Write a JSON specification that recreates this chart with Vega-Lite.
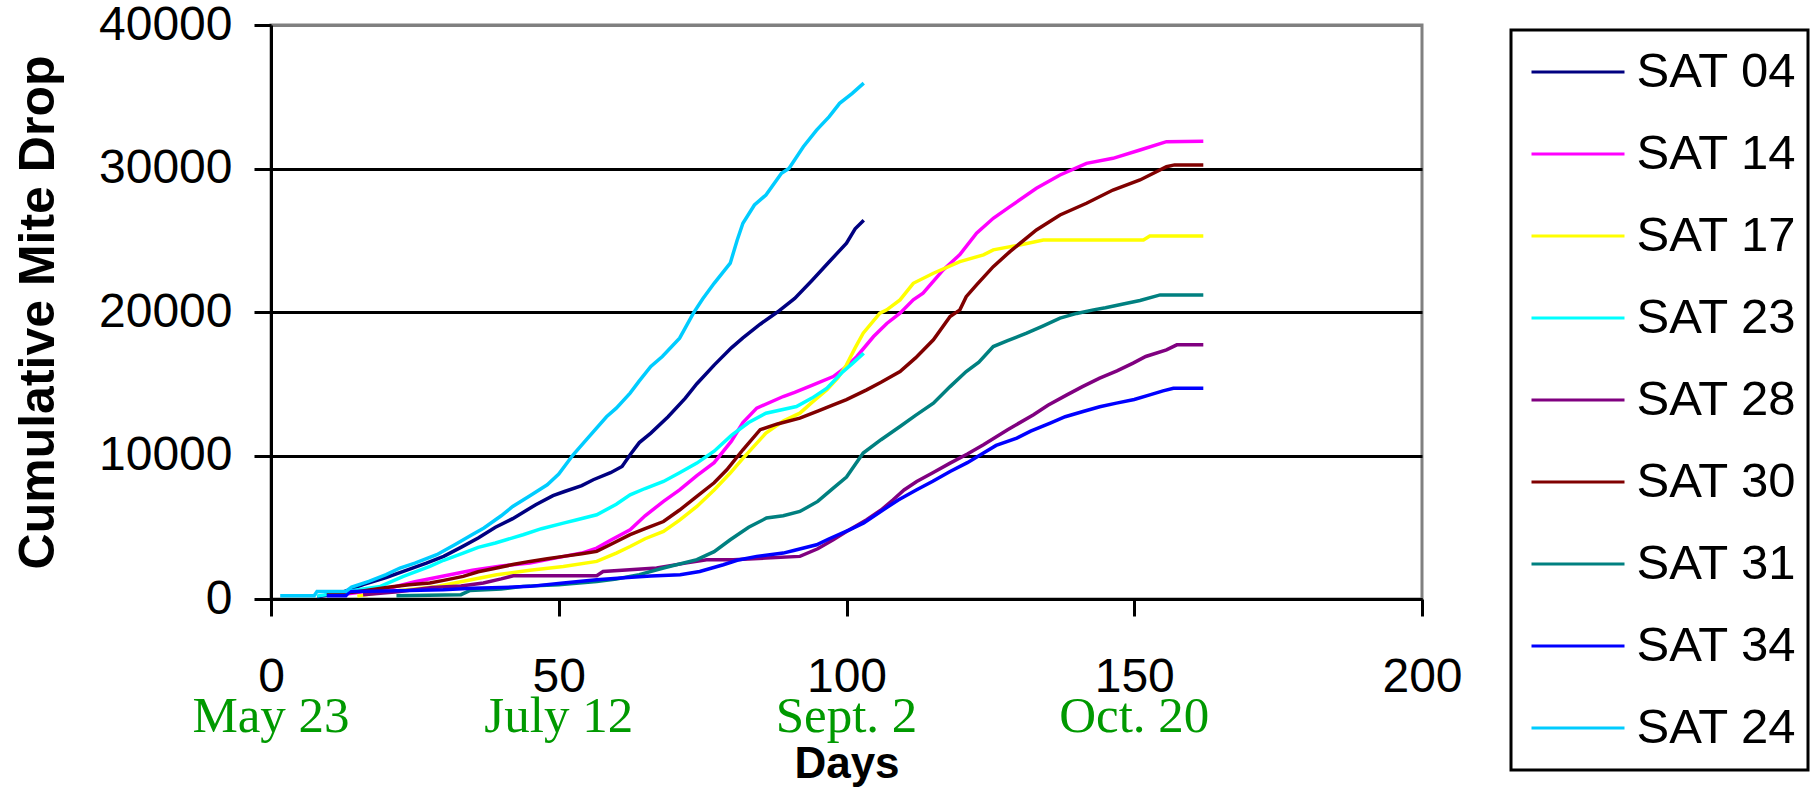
{
  "$schema": "https://vega.github.io/schema/vega-lite/v6.json",
  "width": 1151,
  "height": 574,
  "autosize": {"type": "none"},
  "padding": {"left": 271, "top": 25, "right": 394, "bottom": 193},
  "background": "white",
  "config": {
    "view": {"stroke": "#808080", "strokeWidth": 3},
    "font": "Liberation Sans",
    "legend": {"strokeWidth": 3}
  },
  "datasets": {
    "mites": [
      {"s":"SAT 04","d":8,"v":150},{"s":"SAT 04","d":12,"v":400},{"s":"SAT 04","d":16,"v":1000},{"s":"SAT 04","d":20,"v":1500},{"s":"SAT 04","d":23,"v":1920},{"s":"SAT 04","d":27,"v":2500},{"s":"SAT 04","d":30,"v":2970},{"s":"SAT 04","d":33,"v":3600},{"s":"SAT 04","d":36,"v":4250},{"s":"SAT 04","d":39,"v":5000},{"s":"SAT 04","d":42,"v":5600},{"s":"SAT 04","d":46,"v":6570},{"s":"SAT 04","d":49,"v":7200},{"s":"SAT 04","d":51,"v":7490},{"s":"SAT 04","d":54,"v":7900},{"s":"SAT 04","d":56,"v":8310},{"s":"SAT 04","d":59,"v":8800},{"s":"SAT 04","d":61,"v":9235},{"s":"SAT 04","d":62.5,"v":10100},{"s":"SAT 04","d":64,"v":10900},{"s":"SAT 04","d":66,"v":11560},{"s":"SAT 04","d":69,"v":12700},{"s":"SAT 04","d":72,"v":14000},{"s":"SAT 04","d":74,"v":15000},{"s":"SAT 04","d":77,"v":16300},{"s":"SAT 04","d":80,"v":17500},{"s":"SAT 04","d":82,"v":18200},{"s":"SAT 04","d":85,"v":19150},{"s":"SAT 04","d":88,"v":20000},{"s":"SAT 04","d":91,"v":20950},{"s":"SAT 04","d":94,"v":22200},{"s":"SAT 04","d":97,"v":23500},{"s":"SAT 04","d":100,"v":24800},{"s":"SAT 04","d":101.5,"v":25800},{"s":"SAT 04","d":103,"v":26400},

      {"s":"SAT 14","d":12,"v":300},{"s":"SAT 14","d":20,"v":700},{"s":"SAT 14","d":25,"v":1200},{"s":"SAT 14","d":30,"v":1600},{"s":"SAT 14","d":35,"v":2000},{"s":"SAT 14","d":40,"v":2300},{"s":"SAT 14","d":45,"v":2500},{"s":"SAT 14","d":50,"v":2900},{"s":"SAT 14","d":54,"v":3200},{"s":"SAT 14","d":56.6,"v":3550},{"s":"SAT 14","d":59,"v":4100},{"s":"SAT 14","d":62.4,"v":4830},{"s":"SAT 14","d":65,"v":5800},{"s":"SAT 14","d":68.2,"v":6800},{"s":"SAT 14","d":71,"v":7600},{"s":"SAT 14","d":74,"v":8600},{"s":"SAT 14","d":77,"v":9500},{"s":"SAT 14","d":80,"v":11000},{"s":"SAT 14","d":82,"v":12300},{"s":"SAT 14","d":84.4,"v":13300},{"s":"SAT 14","d":89,"v":14110},{"s":"SAT 14","d":91,"v":14400},{"s":"SAT 14","d":94.2,"v":14920},{"s":"SAT 14","d":97.7,"v":15500},{"s":"SAT 14","d":100,"v":16200},{"s":"SAT 14","d":101.8,"v":16900},{"s":"SAT 14","d":104.7,"v":18290},{"s":"SAT 14","d":107,"v":19200},{"s":"SAT 14","d":109.3,"v":19920},{"s":"SAT 14","d":111.6,"v":20845},{"s":"SAT 14","d":113.3,"v":21310},{"s":"SAT 14","d":116.8,"v":22930},{"s":"SAT 14","d":119.7,"v":24000},{"s":"SAT 14","d":122.6,"v":25490},{"s":"SAT 14","d":125.5,"v":26530},{"s":"SAT 14","d":128.4,"v":27340},{"s":"SAT 14","d":133,"v":28620},{"s":"SAT 14","d":137.1,"v":29550},{"s":"SAT 14","d":141.7,"v":30360},{"s":"SAT 14","d":146.3,"v":30710},{"s":"SAT 14","d":151,"v":31290},{"s":"SAT 14","d":155.6,"v":31870},{"s":"SAT 14","d":162,"v":31900},

      {"s":"SAT 17","d":15,"v":200},{"s":"SAT 17","d":20,"v":500},{"s":"SAT 17","d":25,"v":700},{"s":"SAT 17","d":28.8,"v":880},{"s":"SAT 17","d":33,"v":1200},{"s":"SAT 17","d":39.2,"v":1690},{"s":"SAT 17","d":45,"v":2000},{"s":"SAT 17","d":50.8,"v":2270},{"s":"SAT 17","d":56.6,"v":2620},{"s":"SAT 17","d":60,"v":3200},{"s":"SAT 17","d":62.4,"v":3660},{"s":"SAT 17","d":65,"v":4200},{"s":"SAT 17","d":68.2,"v":4710},{"s":"SAT 17","d":71,"v":5500},{"s":"SAT 17","d":74,"v":6450},{"s":"SAT 17","d":77,"v":7600},{"s":"SAT 17","d":79.8,"v":8775},{"s":"SAT 17","d":82,"v":9800},{"s":"SAT 17","d":86,"v":11560},{"s":"SAT 17","d":89,"v":12400},{"s":"SAT 17","d":91.9,"v":12950},{"s":"SAT 17","d":94,"v":13700},{"s":"SAT 17","d":96.6,"v":14575},{"s":"SAT 17","d":98.5,"v":15400},{"s":"SAT 17","d":100,"v":16315},{"s":"SAT 17","d":101.5,"v":17500},{"s":"SAT 17","d":102.9,"v":18525},{"s":"SAT 17","d":105.8,"v":19920},{"s":"SAT 17","d":107,"v":20150},{"s":"SAT 17","d":109.3,"v":20845},{"s":"SAT 17","d":111.6,"v":22000},{"s":"SAT 17","d":115.1,"v":22700},{"s":"SAT 17","d":119.7,"v":23510},{"s":"SAT 17","d":123.8,"v":23980},{"s":"SAT 17","d":125.5,"v":24330},{"s":"SAT 17","d":130.1,"v":24670},{"s":"SAT 17","d":134.2,"v":25020},{"s":"SAT 17","d":151.6,"v":25020},{"s":"SAT 17","d":152.7,"v":25300},{"s":"SAT 17","d":162,"v":25300},

      {"s":"SAT 23","d":8,"v":200},{"s":"SAT 23","d":13,"v":500},{"s":"SAT 23","d":16,"v":700},{"s":"SAT 23","d":19,"v":880},{"s":"SAT 23","d":23,"v":1575},{"s":"SAT 23","d":27.6,"v":2270},{"s":"SAT 23","d":30,"v":2700},{"s":"SAT 23","d":33.4,"v":3200},{"s":"SAT 23","d":36,"v":3600},{"s":"SAT 23","d":39,"v":3900},{"s":"SAT 23","d":43.8,"v":4480},{"s":"SAT 23","d":47,"v":4900},{"s":"SAT 23","d":50.8,"v":5290},{"s":"SAT 23","d":53,"v":5500},{"s":"SAT 23","d":56.6,"v":5870},{"s":"SAT 23","d":60,"v":6600},{"s":"SAT 23","d":62.4,"v":7260},{"s":"SAT 23","d":65,"v":7700},{"s":"SAT 23","d":68.2,"v":8190},{"s":"SAT 23","d":71,"v":8800},{"s":"SAT 23","d":74,"v":9470},{"s":"SAT 23","d":77,"v":10300},{"s":"SAT 23","d":80,"v":11400},{"s":"SAT 23","d":83,"v":12300},{"s":"SAT 23","d":86,"v":12950},{"s":"SAT 23","d":91.3,"v":13410},{"s":"SAT 23","d":94,"v":14000},{"s":"SAT 23","d":96.6,"v":14690},{"s":"SAT 23","d":99.4,"v":15850},{"s":"SAT 23","d":101,"v":16400},{"s":"SAT 23","d":103,"v":17130},

      {"s":"SAT 28","d":16,"v":300},{"s":"SAT 28","d":22,"v":500},{"s":"SAT 28","d":28,"v":800},{"s":"SAT 28","d":33,"v":900},{"s":"SAT 28","d":36.9,"v":1115},{"s":"SAT 28","d":40,"v":1400},{"s":"SAT 28","d":42.1,"v":1620},{"s":"SAT 28","d":56.6,"v":1620},{"s":"SAT 28","d":57.7,"v":1920},{"s":"SAT 28","d":67,"v":2160},{"s":"SAT 28","d":72,"v":2500},{"s":"SAT 28","d":75.7,"v":2740},{"s":"SAT 28","d":80.3,"v":2740},{"s":"SAT 28","d":86,"v":2850},{"s":"SAT 28","d":91.9,"v":2970},{"s":"SAT 28","d":95,"v":3500},{"s":"SAT 28","d":97.7,"v":4130},{"s":"SAT 28","d":100,"v":4700},{"s":"SAT 28","d":103.5,"v":5520},{"s":"SAT 28","d":106,"v":6200},{"s":"SAT 28","d":108.1,"v":6915},{"s":"SAT 28","d":110,"v":7600},{"s":"SAT 28","d":112.2,"v":8190},{"s":"SAT 28","d":115,"v":8800},{"s":"SAT 28","d":118,"v":9470},{"s":"SAT 28","d":121,"v":10100},{"s":"SAT 28","d":123.8,"v":10745},{"s":"SAT 28","d":128,"v":11800},{"s":"SAT 28","d":132.5,"v":12835},{"s":"SAT 28","d":135,"v":13500},{"s":"SAT 28","d":138.3,"v":14225},{"s":"SAT 28","d":141,"v":14800},{"s":"SAT 28","d":144,"v":15390},{"s":"SAT 28","d":147,"v":15900},{"s":"SAT 28","d":149.8,"v":16435},{"s":"SAT 28","d":152,"v":16900},{"s":"SAT 28","d":155.6,"v":17360},{"s":"SAT 28","d":157.4,"v":17710},{"s":"SAT 28","d":162,"v":17710},

      {"s":"SAT 30","d":9.7,"v":300},{"s":"SAT 30","d":15,"v":500},{"s":"SAT 30","d":20.7,"v":835},{"s":"SAT 30","d":24,"v":1000},{"s":"SAT 30","d":27.6,"v":1115},{"s":"SAT 30","d":30,"v":1300},{"s":"SAT 30","d":33.4,"v":1575},{"s":"SAT 30","d":36,"v":1900},{"s":"SAT 30","d":39.2,"v":2160},{"s":"SAT 30","d":42,"v":2400},{"s":"SAT 30","d":45,"v":2620},{"s":"SAT 30","d":48,"v":2800},{"s":"SAT 30","d":50.8,"v":2970},{"s":"SAT 30","d":54,"v":3150},{"s":"SAT 30","d":56.6,"v":3315},{"s":"SAT 30","d":59,"v":3800},{"s":"SAT 30","d":62.4,"v":4480},{"s":"SAT 30","d":65,"v":4900},{"s":"SAT 30","d":68.2,"v":5400},{"s":"SAT 30","d":71,"v":6200},{"s":"SAT 30","d":74,"v":7145},{"s":"SAT 30","d":77,"v":8100},{"s":"SAT 30","d":79.2,"v":9000},{"s":"SAT 30","d":82,"v":10400},{"s":"SAT 30","d":85,"v":11800},{"s":"SAT 30","d":88,"v":12200},{"s":"SAT 30","d":91.9,"v":12600},{"s":"SAT 30","d":95,"v":13100},{"s":"SAT 30","d":97.7,"v":13530},{"s":"SAT 30","d":100,"v":13900},{"s":"SAT 30","d":103.5,"v":14575},{"s":"SAT 30","d":106,"v":15100},{"s":"SAT 30","d":109.3,"v":15850},{"s":"SAT 30","d":112,"v":16800},{"s":"SAT 30","d":115.1,"v":18060},{"s":"SAT 30","d":118,"v":19680},{"s":"SAT 30","d":119.7,"v":20150},{"s":"SAT 30","d":120.8,"v":21070},{"s":"SAT 30","d":122.6,"v":21890},{"s":"SAT 30","d":125.5,"v":23160},{"s":"SAT 30","d":128.4,"v":24210},{"s":"SAT 30","d":133,"v":25720},{"s":"SAT 30","d":137.1,"v":26760},{"s":"SAT 30","d":141.7,"v":27580},{"s":"SAT 30","d":146.3,"v":28500},{"s":"SAT 30","d":151,"v":29200},{"s":"SAT 30","d":155.6,"v":30125},{"s":"SAT 30","d":157,"v":30250},{"s":"SAT 30","d":162,"v":30250},

      {"s":"SAT 31","d":21.8,"v":230},{"s":"SAT 31","d":33,"v":300},{"s":"SAT 31","d":34.6,"v":600},{"s":"SAT 31","d":40,"v":700},{"s":"SAT 31","d":43.8,"v":880},{"s":"SAT 31","d":50,"v":1000},{"s":"SAT 31","d":56.6,"v":1225},{"s":"SAT 31","d":60,"v":1400},{"s":"SAT 31","d":64,"v":1700},{"s":"SAT 31","d":68.2,"v":2160},{"s":"SAT 31","d":74,"v":2740},{"s":"SAT 31","d":77,"v":3300},{"s":"SAT 31","d":79.8,"v":4130},{"s":"SAT 31","d":83,"v":5000},{"s":"SAT 31","d":86.1,"v":5640},{"s":"SAT 31","d":89,"v":5800},{"s":"SAT 31","d":91.9,"v":6100},{"s":"SAT 31","d":95,"v":6800},{"s":"SAT 31","d":97.7,"v":7730},{"s":"SAT 31","d":100,"v":8500},{"s":"SAT 31","d":102.9,"v":10170},{"s":"SAT 31","d":106,"v":11100},{"s":"SAT 31","d":109.3,"v":12020},{"s":"SAT 31","d":112,"v":12800},{"s":"SAT 31","d":115.1,"v":13650},{"s":"SAT 31","d":118,"v":14800},{"s":"SAT 31","d":120.8,"v":15850},{"s":"SAT 31","d":123,"v":16500},{"s":"SAT 31","d":125.5,"v":17590},{"s":"SAT 31","d":128,"v":18000},{"s":"SAT 31","d":131.3,"v":18525},{"s":"SAT 31","d":134,"v":19000},{"s":"SAT 31","d":137.1,"v":19570},{"s":"SAT 31","d":140,"v":19900},{"s":"SAT 31","d":142.9,"v":20150},{"s":"SAT 31","d":145,"v":20300},{"s":"SAT 31","d":148.7,"v":20615},{"s":"SAT 31","d":151,"v":20800},{"s":"SAT 31","d":154.5,"v":21190},{"s":"SAT 31","d":162,"v":21190},

      {"s":"SAT 34","d":9.7,"v":230},{"s":"SAT 34","d":13,"v":230},{"s":"SAT 34","d":13.7,"v":530},{"s":"SAT 34","d":20,"v":550},{"s":"SAT 34","d":29.9,"v":650},{"s":"SAT 34","d":35,"v":750},{"s":"SAT 34","d":40,"v":800},{"s":"SAT 34","d":45,"v":880},{"s":"SAT 34","d":50.8,"v":1115},{"s":"SAT 34","d":56.6,"v":1345},{"s":"SAT 34","d":62,"v":1500},{"s":"SAT 34","d":66,"v":1600},{"s":"SAT 34","d":71.1,"v":1690},{"s":"SAT 34","d":74.5,"v":1920},{"s":"SAT 34","d":78.6,"v":2390},{"s":"SAT 34","d":81,"v":2700},{"s":"SAT 34","d":84.4,"v":2970},{"s":"SAT 34","d":89,"v":3200},{"s":"SAT 34","d":91,"v":3400},{"s":"SAT 34","d":94.8,"v":3780},{"s":"SAT 34","d":97,"v":4200},{"s":"SAT 34","d":100.6,"v":4830},{"s":"SAT 34","d":103,"v":5300},{"s":"SAT 34","d":106.4,"v":6220},{"s":"SAT 34","d":109,"v":6900},{"s":"SAT 34","d":112.2,"v":7610},{"s":"SAT 34","d":115,"v":8200},{"s":"SAT 34","d":118,"v":8885},{"s":"SAT 34","d":121,"v":9500},{"s":"SAT 34","d":123.8,"v":10170},{"s":"SAT 34","d":126,"v":10700},{"s":"SAT 34","d":129.6,"v":11210},{"s":"SAT 34","d":132,"v":11700},{"s":"SAT 34","d":135.4,"v":12255},{"s":"SAT 34","d":138,"v":12700},{"s":"SAT 34","d":141.1,"v":13065},{"s":"SAT 34","d":144,"v":13400},{"s":"SAT 34","d":146.9,"v":13650},{"s":"SAT 34","d":150,"v":13900},{"s":"SAT 34","d":152.7,"v":14225},{"s":"SAT 34","d":155,"v":14500},{"s":"SAT 34","d":156.8,"v":14690},{"s":"SAT 34","d":162,"v":14690},

      {"s":"SAT 24","d":1.6,"v":230},{"s":"SAT 24","d":7.5,"v":230},{"s":"SAT 24","d":8,"v":530},{"s":"SAT 24","d":13,"v":530},{"s":"SAT 24","d":14,"v":830},{"s":"SAT 24","d":17,"v":1225},{"s":"SAT 24","d":20,"v":1700},{"s":"SAT 24","d":22.4,"v":2160},{"s":"SAT 24","d":25,"v":2500},{"s":"SAT 24","d":28.8,"v":3085},{"s":"SAT 24","d":32,"v":3800},{"s":"SAT 24","d":35,"v":4500},{"s":"SAT 24","d":37,"v":4950},{"s":"SAT 24","d":40,"v":5800},{"s":"SAT 24","d":42,"v":6450},{"s":"SAT 24","d":45,"v":7200},{"s":"SAT 24","d":48,"v":7960},{"s":"SAT 24","d":50,"v":8700},{"s":"SAT 24","d":52.5,"v":10050},{"s":"SAT 24","d":55,"v":11200},{"s":"SAT 24","d":58.3,"v":12700},{"s":"SAT 24","d":60,"v":13300},{"s":"SAT 24","d":62.4,"v":14350},{"s":"SAT 24","d":64,"v":15200},{"s":"SAT 24","d":66,"v":16200},{"s":"SAT 24","d":68,"v":16900},{"s":"SAT 24","d":71,"v":18175},{"s":"SAT 24","d":73.4,"v":19920},{"s":"SAT 24","d":75,"v":20900},{"s":"SAT 24","d":77,"v":22000},{"s":"SAT 24","d":79.8,"v":23400},{"s":"SAT 24","d":81,"v":25000},{"s":"SAT 24","d":82,"v":26185},{"s":"SAT 24","d":84,"v":27460},{"s":"SAT 24","d":86,"v":28155},{"s":"SAT 24","d":88.7,"v":29665},{"s":"SAT 24","d":90,"v":30000},{"s":"SAT 24","d":92.5,"v":31520},{"s":"SAT 24","d":94.8,"v":32680},{"s":"SAT 24","d":97,"v":33610},{"s":"SAT 24","d":98.8,"v":34540},{"s":"SAT 24","d":101,"v":35240},{"s":"SAT 24","d":103,"v":35950}
    ],
    "dates": [
      {"d": 0, "label": "May 23"},
      {"d": 50, "label": "July 12"},
      {"d": 100, "label": "Sept. 2"},
      {"d": 150, "label": "Oct. 20"}
    ]
  },
  "layer": [
    {
      "data": {"name": "mites"},
      "mark": {"type": "line", "strokeWidth": 3.5, "interpolate": "linear"},
      "encoding": {
        "x": {
          "field": "d", "type": "quantitative", "title": "Days",
          "scale": {"domain": [0, 200], "nice": false},
          "axis": {
            "title": "Days", "values": [0, 50, 100, 150, 200], "format": "d", "grid": false,
            "domainColor": "black", "domainWidth": 3, "tickColor": "black", "tickWidth": 3, "tickSize": 17,
            "labelFont": "Liberation Sans", "labelFontSize": 48, "labelColor": "black", "labelPadding": 37,
            "labelFlush": false, "labelOverlap": false,
            "titleFont": "Liberation Sans", "titleFontSize": 44, "titleFontWeight": "bold", "titleColor": "black",
            "titleBaseline": "alphabetic", "titlePadding": 76.5
          }
        },
        "y": {
          "field": "v", "type": "quantitative", "title": "Cumulative Mite Drop",
          "scale": {"domain": [0, 40000], "nice": false},
          "axis": {
            "title": "Cumulative Mite Drop", "values": [0, 10000, 20000, 30000, 40000], "format": "d",
            "grid": true,
            "gridColor": {"condition": {"test": "datum.value === 40000", "value": "#808080"}, "value": "black"},
            "gridWidth": 3,
            "domainColor": "black", "domainWidth": 3, "tickColor": "black", "tickWidth": 3, "tickSize": 17,
            "labelFont": "Liberation Sans", "labelFontSize": 48, "labelColor": "black", "labelPadding": 22,
            "labelFlush": false, "labelOverlap": false,
            "titleFont": "Liberation Sans", "titleFontSize": 50, "titleFontWeight": "bold", "titleColor": "black",
            "titlePadding": 35
          }
        },
        "color": {
          "field": "s", "type": "nominal",
          "scale": {
            "domain": ["SAT 04", "SAT 14", "SAT 17", "SAT 23", "SAT 28", "SAT 30", "SAT 31", "SAT 34", "SAT 24"],
            "range": ["#000080", "#FF00FF", "#FFFF00", "#00FFFF", "#800080", "#800000", "#008080", "#0000FF", "#00CCFF"]
          },
          "legend": {
            "orient": "none", "legendX": 1240, "legendY": 5, "title": null,
            "symbolType": "M-1.86,0H1.86", "symbolSize": 2500, "symbolStrokeWidth": 3,
            "symbolOffset": 29.5, "labelOffset": 32, "clipHeight": 62,
            "labelFont": "Liberation Sans", "labelFontSize": 49, "labelColor": "black", "labelLimit": 400,
            "rowPadding": 20, "padding": 11, "strokeColor": "black"
          }
        }
      }
    },
    {
      "data": {"name": "dates"},
      "mark": {"type": "text", "font": "Liberation Serif", "fontSize": 51, "color": "#009900", "baseline": "alphabetic", "align": "center"},
      "encoding": {
        "x": {"field": "d", "type": "quantitative", "title": "Days"},
        "y": {"datum": -9270, "type": "quantitative", "title": "Cumulative Mite Drop"},
        "text": {"field": "label"}
      }
    }
  ]
}
